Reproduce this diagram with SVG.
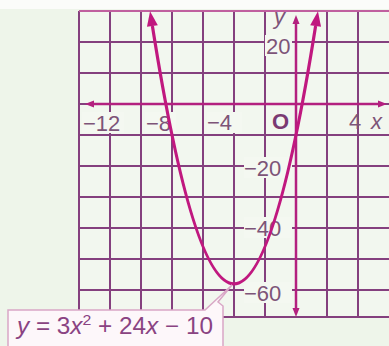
<svg xmlns="http://www.w3.org/2000/svg" width="389" height="346" viewBox="0 0 389 346">
<style>
.grid line{stroke:#84407e;stroke-width:2}
.axis{stroke:#b3207f;stroke-width:2.5;fill:none}
.curve{stroke:#c0187f;stroke-width:3.2;fill:none}
.lbl{font-family:"Liberation Sans",Arial,sans-serif;font-size:22px;fill:#7d5478}
.lblbg{fill:#f4f8f1}
</style>
<defs>
<marker id="ca" markerUnits="userSpaceOnUse" markerWidth="20" markerHeight="14" viewBox="0 -7 16 14" refX="0" refY="0" orient="auto-start-reverse">
<path d="M0,-5.5 L15,0 L0,5.5 z" fill="#c0187f"/>
</marker>
<marker id="aa" markerUnits="userSpaceOnUse" markerWidth="12" markerHeight="10" viewBox="0 -5 10 10" refX="0" refY="0" orient="auto-start-reverse">
<path d="M0,-3.5 L9,0 L0,3.5 z" fill="#b3207f"/>
</marker>
</defs>
<rect width="389" height="346" fill="#eef5ea"/>
<rect x="0" y="0" width="389" height="9" fill="#fbfcfa"/>
<rect x="80" y="11" width="309" height="306" fill="#f2f7ef"/>
<g id="grid" class="grid">
<line x1="79" y1="11" x2="79" y2="317"/>
<line x1="110" y1="11" x2="110" y2="317"/>
<line x1="141" y1="11" x2="141" y2="317"/>
<line x1="172" y1="11" x2="172" y2="317"/>
<line x1="203" y1="11" x2="203" y2="317"/>
<line x1="234" y1="11" x2="234" y2="317"/>
<line x1="265" y1="11" x2="265" y2="317"/>
<line x1="327" y1="11" x2="327" y2="317"/>
<line x1="358" y1="11" x2="358" y2="317"/>
<line x1="79" y1="11" x2="389" y2="11" style="stroke:#c0609f"/>
<line x1="79" y1="42" x2="389" y2="42"/>
<line x1="79" y1="73" x2="389" y2="73"/>
<line x1="79" y1="104" x2="389" y2="104"/>
<line x1="79" y1="135" x2="389" y2="135"/>
<line x1="79" y1="166" x2="389" y2="166"/>
<line x1="79" y1="197" x2="389" y2="197"/>
<line x1="79" y1="228" x2="389" y2="228"/>
<line x1="79" y1="259" x2="389" y2="259"/>
<line x1="79" y1="290" x2="389" y2="290"/>
<line x1="79" y1="317" x2="389" y2="317"/>
</g>
<g id="tick-labels">
<rect class="lblbg" x="82" y="112" width="42" height="21"/>
<text class="lbl" x="83" y="131">−12</text>
<rect class="lblbg" x="145" y="112" width="31" height="21"/>
<text class="lbl" x="146" y="131">−8</text>
<rect class="lblbg" x="207" y="112" width="35" height="21"/>
<text class="lbl" x="207" y="130">−4</text>
<text x="272" y="129" style="font-family:'Liberation Sans',Arial,sans-serif;font-size:22px;font-weight:bold;fill:#7a3a72">O</text>
<text class="lbl" x="349" y="129">4</text>
<text class="lbl" x="371" y="129" style="font-style:italic">x</text>
<text class="lbl" x="274" y="24" style="font-style:italic">y</text>
<rect class="lblbg" x="265" y="35" width="27" height="21"/>
<text class="lbl" x="266" y="54">20</text>
<rect class="lblbg" x="244" y="157" width="48" height="21"/>
<text class="lbl" x="244" y="176">−20</text>
<rect class="lblbg" x="244" y="217" width="48" height="21"/>
<text class="lbl" x="244" y="236">−40</text>
<rect class="lblbg" x="244" y="282" width="48" height="21"/>
<text class="lbl" x="244" y="301">−60</text>
</g>
<g id="axes">
<path class="axis" d="M94,104 H378" marker-start="url(#aa)" marker-end="url(#aa)"/>
<path class="axis" d="M296,24 V308" marker-start="url(#aa)" marker-end="url(#aa)"/>
</g>
<g id="parabola">
<path class="curve" d="M152.4,26 Q234,541.6 315.6,26" marker-start="url(#ca)" marker-end="url(#ca)"/>
</g>
<g id="equation-label">
<path d="M8,346 V310 H205 L232,285 L218,302 L223,306 V346" fill="#fdf7fa" stroke="#d9a7c6" stroke-width="1.5"/>
<text x="17" y="334" textLength="196" lengthAdjust="spacingAndGlyphs" style="font-family:'Liberation Sans',Arial,sans-serif;font-size:23px;fill:#8a4382"><tspan font-style="italic">y</tspan> = 3<tspan font-style="italic">x</tspan><tspan font-size="15" dy="-9">2</tspan><tspan dy="9"> + 24</tspan><tspan font-style="italic">x</tspan> − 10</text>
</g>
</svg>
